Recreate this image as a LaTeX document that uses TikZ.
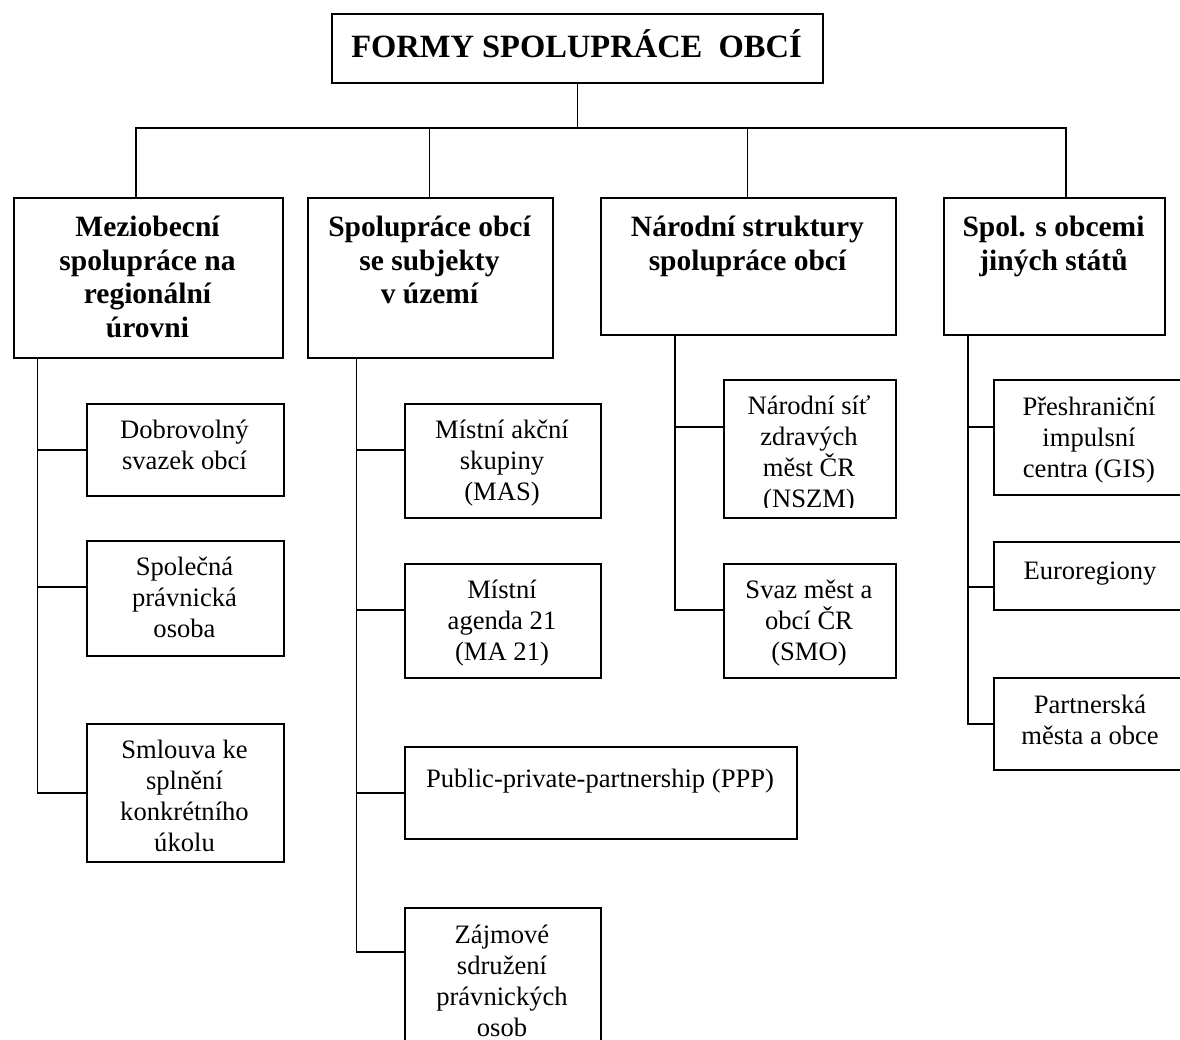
\documentclass[tikz,border=0pt]{standalone}
\usepackage{fontspec}
\setmainfont{Liberation Serif}
\newcommand{\mybox}[5]{\node[box, minimum width={#4-#2}, minimum height={#5-#3}] (#1) at (#2,#3) {};}
\begin{document}
\begin{tikzpicture}[x=1pt,y=-1pt,
  line width=1.8pt,
  box/.style={draw, rectangle, inner sep=0pt, anchor=north west},
  ttl/.style={font=\fontsize{32.5}{38}\selectfont\bfseries, align=center, inner sep=0pt},
  hd/.style={font=\fontsize{29.5}{33.5}\selectfont\bfseries, align=center, inner sep=0pt,
    execute at begin node=\strut, execute at end node=\strut},
  tx/.style={font=\fontsize{26.6}{31}\selectfont, align=center, inner sep=0pt,
    execute at begin node=\strut, execute at end node=\strut},
  link/.style={draw, line width=1.8pt}]
\useasboundingbox (0,0) rectangle (1180,1039);
\fill[white] (0,0) rectangle (1180,1039);
\clip (0,0) rectangle (1180,1039);

% boxes
\mybox{T}{331}{13}{822}{82}
\mybox{B1}{13}{197}{282}{357}
\mybox{B2}{307}{197}{552}{357}
\mybox{B3}{600}{197}{895}{334}
\mybox{B4}{943}{197}{1164}{334}
\mybox{S11}{86}{403}{283}{495}
\mybox{S12}{86}{540}{283}{655}
\mybox{S13}{86}{723}{283}{861}
\mybox{S21}{404}{403}{600}{517}
\mybox{S22}{404}{563}{600}{677}
\mybox{S23}{404}{746}{796}{838}
\mybox{S24}{404}{907}{600}{1060}
\mybox{S31}{723}{379}{895}{517}
\mybox{S32}{723}{563}{895}{677}
\mybox{S41}{993}{379}{1195}{494}
\mybox{S42}{993}{541}{1195}{609}
\mybox{S43}{993}{677}{1195}{769}

% texts
\node[ttl] (tT) at (576.5,43.5) {FORMY SPOLUPRÁCE\ \ OBCÍ};
\node[hd] (tB1) at (147.5,282) {Meziobecní\\spolupráce na\\regionální\\úrovni};
\node[hd] (tB2) at (429.5,265) {Spolupráce obcí\\se subjekty\\v území};
\node[hd] (tB3) at (747.5,248.5) {Národní struktury\\spolupráce obcí};
\node[hd] (tB4) at (1053.5,248.5) {Spol. s obcemi\\jiných států};
\node[tx] (tS11) at (184.5,449) {Dobrovolný\\svazek obcí};
\node[tx] (tS12) at (184.5,601.5) {Společná\\právnická\\osoba};
\node[tx] (tS13) at (184.5,800.5) {Smlouva ke\\splnění\\konkrétního\\úkolu};
\node[tx] (tS21) at (502,465) {Místní akční\\skupiny\\(MAS)};
\node[tx] (tS22) at (502,625) {Místní\\agenda 21\\(MA 21)};
\node[tx] (tS23) at (600,781) {Public-private-partnership (PPP)};
\node[tx] (tS24) at (502,985) {Zájmové\\sdružení\\právnických\\osob};
\begin{scope}
\clip (723,379) rectangle (895,507);
\node[tx] (tS31) at (809,456.5) {Národní síť\\zdravých\\měst ČR\\(NSZM)};
\end{scope}
\node[tx] (tS32) at (809,625) {Svaz měst a\\obcí ČR\\(SMO)};
\node[tx] (tS41) at (1089,441.5) {Přeshraniční\\impulsní\\centra (GIS)};
\node[tx] (tS42) at (1090,573) {Euroregiony};
\node[tx] (tS43) at (1090,724) {Partnerská\\města a obce};

% top connectors
\coordinate (j1) at (136,128);
\coordinate (j2) at (429.5,128);
\coordinate (j3) at (747.5,128);
\coordinate (j4) at (1066,128);
\draw[link] (T.south) -- (T.south |- j1);
\draw[link] (j1 |- B1.north) -- (j1) -- (j4) -- (j4 |- B4.north);
\draw[link] (j2) -- (j2 |- B2.north);
\draw[link] (j3) -- (j3 |- B3.north);

% sub connectors end points
\coordinate (e11) at (S11.west);
\coordinate (e12) at ([yshift=11.5pt]S12.west);
\coordinate (e13) at (S13.west);
\coordinate (e21) at ([yshift=11pt]S21.west);
\coordinate (e22) at ([yshift=11pt]S22.west);
\coordinate (e23) at (S23.west);
\coordinate (e24) at ([yshift=32.5pt]S24.west);
\coordinate (e31) at ([yshift=22pt]S31.west);
\coordinate (e32) at ([yshift=11pt]S32.west);
\coordinate (e41) at ([yshift=10.5pt]S41.west);
\coordinate (e42) at ([yshift=-11pt]S42.west);
\coordinate (e43) at (S43.west);

\coordinate (v1) at (B1.south -| 37.5,0);
\coordinate (v2) at (B2.south -| 356.5,0);
\coordinate (v3) at (B3.south -| 674.6,0);
\coordinate (v4) at (B4.south -| 968,0);

\draw[link] (v1) |- (e13);
\draw[link] (e11 -| v1) -- (e11);
\draw[link] (e12 -| v1) -- (e12);
\draw[link] (v2) |- (e24);
\draw[link] (e21 -| v2) -- (e21);
\draw[link] (e22 -| v2) -- (e22);
\draw[link] (e23 -| v2) -- (e23);
\draw[link] (v3) |- (e32);
\draw[link] (e31 -| v3) -- (e31);
\draw[link] (v4) |- (e43);
\draw[link] (e41 -| v4) -- (e41);
\draw[link] (e42 -| v4) -- (e42);
\end{tikzpicture}
\end{document}
